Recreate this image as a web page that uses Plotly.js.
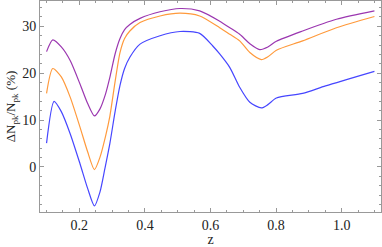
<!DOCTYPE html>
<html><head><meta charset="utf-8">
<script src="https://cdn.plot.ly/plotly-3.0.1.min.js"></script>
<style>html,body{margin:0;padding:0;background:#fff}#c{width:382px;height:247px}</style>
</head><body><div id="c"></div>
<script>
const zPurple = [0.100,0.119,0.145,0.172,0.202,0.225,0.246,0.263,0.280,0.293,0.309,0.324,0.338,0.354,0.385,0.446,0.507,0.567,0.628,0.659,0.689,0.720,0.750,0.775,0.801,0.881,0.984,1.100];
const vPurple = [24.6,27.1,25.6,22.7,17.7,13.6,10.9,12.4,15.6,19.1,24.1,27.4,29.3,30.4,31.7,33.1,33.8,33.3,31.1,29.7,28.3,26.3,25.05,25.6,26.8,29.0,31.5,33.3];
const zOrange = [0.100,0.119,0.145,0.172,0.202,0.225,0.246,0.263,0.280,0.293,0.309,0.324,0.338,0.354,0.385,0.446,0.507,0.567,0.628,0.659,0.689,0.720,0.755,0.775,0.801,0.881,0.984,1.100];
const vOrange = [15.7,21.0,19.2,14.9,8.5,3.3,-0.55,2.1,6.6,10.8,18.2,24.4,27.4,29.0,30.8,32.2,32.8,32.2,29.7,28.3,26.9,24.4,22.9,23.5,24.9,26.9,29.7,32.1];
const zBlue = [0.100,0.123,0.145,0.172,0.202,0.225,0.246,0.263,0.278,0.293,0.309,0.324,0.338,0.354,0.385,0.446,0.507,0.567,0.607,0.628,0.659,0.689,0.720,0.755,0.775,0.801,0.881,0.951,1.100];
const vBlue = [5.1,14.0,11.8,7.1,0.7,-4.5,-8.3,-5.3,-0.3,5.0,11.8,17.4,21.0,23.4,26.2,28.0,28.9,28.5,25.8,24.1,21.2,17.0,13.8,12.6,13.3,14.7,15.7,17.3,20.4];
const xTickVals = [0.2,0.4,0.6,0.8,1.0];
const xTickText = ['0.2','0.4','0.6','0.8','1.0'];
const yTickVals = [0,10,20,30];

const mk = (x,y,c)=>({x:x,y:y,type:'scatter',mode:'lines',line:{color:c,width:1.2,shape:'spline',smoothing:0.7},hoverinfo:'none'});
const data = [mk(zPurple,vPurple,'#9b37b0'), mk(zOrange,vOrange,'#ff9a3c'), mk(zBlue,vBlue,'#4646ff')];
const fnt = {family:'Liberation Serif, Times New Roman, serif', size:13, color:'#222'};
const tfnt = {family:'Liberation Serif, Times New Roman, serif', size:14, color:'#222'};
const layout = {
  width:382, height:247, margin:{l:40,r:1,t:1,b:35},
  paper_bgcolor:'#fff', plot_bgcolor:'#fff', showlegend:false,
  font: fnt,
  xaxis:{range:[0.08,1.12], tickvals:xTickVals, ticktext:xTickText, ticks:'inside', ticklen:4, tickcolor:'#999',
    minor:{ticks:'inside', ticklen:2, dtick:0.05, tick0:0, tickcolor:'#999'},
    showgrid:false, zeroline:false, showline:true, linecolor:'#999', linewidth:1, mirror:'allticks',
    tickfont:tfnt, title:{text:'z', font:tfnt, standoff:3}},
  yaxis:{range:[-9.6,35.4], tickvals:yTickVals, ticks:'inside', ticklen:4, tickcolor:'#999',
    minor:{ticks:'inside', ticklen:2, dtick:2, tick0:0, tickcolor:'#999'},
    showgrid:false, zeroline:false, showline:true, linecolor:'#999', linewidth:1, mirror:'allticks',
    tickfont:tfnt, title:{text:'ΔN<sub>pk</sub>/N<sub>pk</sub> (%)', font:fnt, standoff:3}}
};
Plotly.newPlot('c', data, layout, {staticPlot:true, displayModeBar:false});
</script></body></html>
